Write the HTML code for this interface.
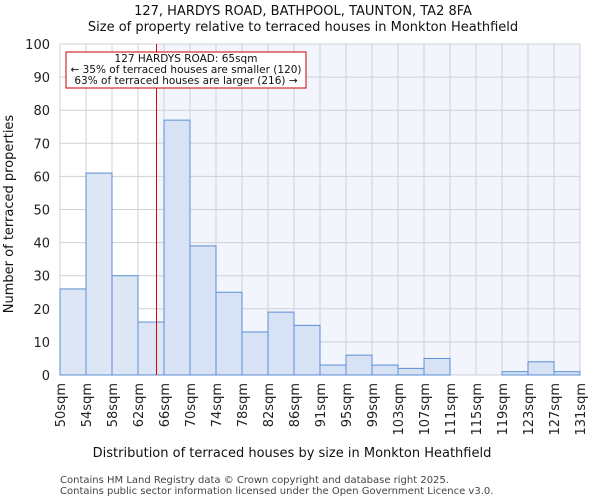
<!DOCTYPE html>
<html><head><meta charset="utf-8"><style>
body{margin:0;background:#fff;font-family:"DejaVu Sans","Liberation Sans",sans-serif}
</style></head><body>
<svg id="c" width="600" height="500" xmlns="http://www.w3.org/2000/svg" font-family="DejaVu Sans, Liberation Sans, sans-serif"></svg>
<script>
const categories=["50sqm","54sqm","58sqm","62sqm","66sqm","70sqm","74sqm","78sqm","82sqm","86sqm","91sqm","95sqm","99sqm","103sqm","107sqm","111sqm","115sqm","119sqm","123sqm","127sqm","131sqm"];
const counts=[26,61,30,16,77,39,25,13,19,15,3,6,3,2,5,0,0,1,4,1];
const yTicks=[0,10,20,30,40,50,60,70,80,90,100];
const markerBin=3.75;
const L=60,R=580,T=44,B=375,N=counts.length,bw=(R-L)/N;
const x=i=>L+i*bw, y=v=>B-(B-T)*v/100;
const s=document.getElementById('c'),NS="http://www.w3.org/2000/svg";
function el(t,a,txt){const e=document.createElementNS(NS,t);for(const k in a)e.setAttribute(k,a[k]);if(txt!==undefined)e.textContent=txt;s.appendChild(e);return e;}
const mx=x(markerBin);
let e=el('rect',{x:mx,y:T,width:R-mx,height:B-T,fill:'#f2f5fc'});


yTicks.forEach(v=>{let g=el('line',{x1:L,x2:R,y1:y(v),y2:y(v),stroke:'#cdd1d9','stroke-width':1});


let t=el('text',{x:L-10,y:y(v)+5,'text-anchor':'end','font-size':13,fill:'#222'},v);

});
for(let i=0;i<=N;i++){let g=el('line',{x1:x(i),x2:x(i),y1:T,y2:B,stroke:'#cdd1d9','stroke-width':1});

}
counts.forEach((v,i)=>{let r=el('rect',{x:x(i),y:y(v),width:bw,height:B-y(v),fill:i<3.75?'#dde6f4':'#d7e2f4',stroke:'#5b8fd6','stroke-width':1});

});
categories.forEach((c,i)=>{let t=el('text',{transform:`translate(${x(i)+5},383) rotate(-90)`,'text-anchor':'end','font-size':13,fill:'#222'},c);

});
e=el('line',{x1:mx-1,x2:mx-1,y1:T,y2:B,stroke:'#e00000','stroke-width':1});


e=el('rect',{x:66,y:52,width:240,height:36,fill:'#fff',stroke:'#c00','stroke-width':1});


[["127 HARDYS ROAD: 65sqm",62],["← 35% of terraced houses are smaller (120)",73],["63% of terraced houses are larger (216) →",84]].forEach(a=>{let t=el('text',{x:186,y:a[1],'text-anchor':'middle','font-size':10.5,fill:'#111'},a[0]);

});
[["127, HARDYS ROAD, BATHPOOL, TAUNTON, TA2 8FA",15],["Size of property relative to terraced houses in Monkton Heathfield",31]].forEach(a=>{let t=el('text',{x:303,y:a[1],'text-anchor':'middle','font-size':13,fill:'#111'},a[0]);

});
e=el('text',{x:292,y:457,'text-anchor':'middle','font-size':13,fill:'#111'},'Distribution of terraced houses by size in Monkton Heathfield');


e=el('text',{transform:'translate(13,214) rotate(-90)','text-anchor':'middle','font-size':13,fill:'#111'},'Number of terraced properties');


[["Contains HM Land Registry data © Crown copyright and database right 2025.",483],["Contains public sector information licensed under the Open Government Licence v3.0.",494]].forEach(a=>{let t=el('text',{x:60,y:a[1],'font-size':10,fill:'#444'},a[0]);

});
</script>
</body></html>
